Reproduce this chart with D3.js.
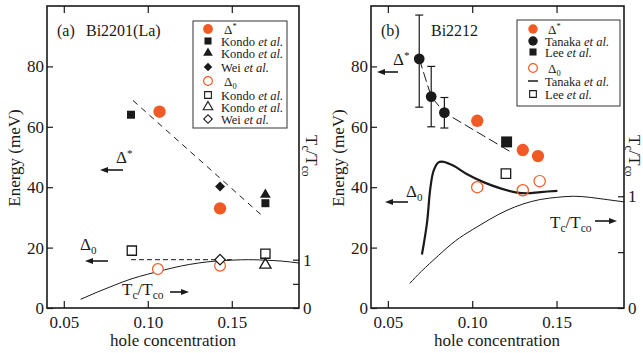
<!DOCTYPE html>
<html><head><meta charset="utf-8">
<script src="https://cdn.jsdelivr.net/npm/d3@7"></script>
<style>
body{margin:0;background:#fff}
svg{display:block}
svg text{font-family:"Liberation Serif","Times New Roman",Times,"Nimbus Roman","DejaVu Serif",serif !important;fill:#1a1a1a}
</style>
</head><body>
<svg id="c" width="643" height="353" font-family="Liberation Serif, DejaVu Serif, serif"></svg>
<script>
// ---------- axis ticks ----------
const xTickVals = [0.05, 0.10, 0.15];
const xTickLabels = ["0.05", "0.10", "0.15"];
const energyTicks = [0, 20, 40, 60, 80];
const ratioTicks = [0, 0.5, 1];
const ratioTickLabels = ["0", "", "1"];

// ---------- panel (a) Bi2201(La): [hole conc., energy meV] ----------
const aStar        = [[0.107, 65], [0.143, 33]];
const aKondoSqFill = [[0.090, 64], [0.170, 34.7]];
const aKondoTrFill = [[0.170, 37.5]];
const aWeiDiaFill  = [[0.143, 40.2]];
const aGap0        = [[0.106, 12.9], [0.143, 14]];
const aKondoSqOpen = [[0.0905, 19], [0.170, 18]];
const aKondoTrOpen = [[0.170, 14.3]];
const aWeiDiaOpen  = [[0.143, 16]];
const aStarGuide   = [[0.0912, 68.7], [0.1678, 30.7]];
const aGap0Guide   = [[0.090, 16], [0.150, 16]];
const aTcP = [0.06, 0.07, 0.08, 0.09, 0.10, 0.11, 0.12, 0.13, 0.14, 0.15, 0.16, 0.17, 0.18, 0.19];
const aTcV = [0.18, 0.33, 0.47, 0.60, 0.70, 0.79, 0.87, 0.93, 0.97, 0.99, 1.00, 0.99, 0.97, 0.93];
const aTcScaleE = 16;   // energy corresponding to Tc/Tco = 1

// ---------- panel (b) Bi2212 ----------
const bStar       = [[0.103, 62], [0.130, 52.3], [0.139, 50.3]];
const bTanaka     = [[0.0686, 82.5, 66.5, 97], [0.0757, 70, 60, 80], [0.0835, 64.7, 59.6, 69.7]]; // p, E, low, high
const bTanakaGuide= [[0.0686, 82.5], [0.0757, 70], [0.0835, 64.7], [0.124, 51.3]];
const bLeeFill    = [[0.1204, 55]];
const bGap0       = [[0.103, 40], [0.130, 39], [0.140, 42]];
const bLeeOpen    = [[0.1200, 44.5]];
const bTanakaGap0 = [[0.0702,17.7],[0.0732,28.2],[0.0751,39.3],[0.0771,45.4],[0.080,48.2],[0.083,48.4],
                     [0.089,47.1],[0.097,44.3],[0.107,41.6],[0.1168,39.6],[0.1267,38.2],[0.1327,38.0],
                     [0.1406,38.4],[0.1505,38.8]];
const bTcP = [0.063, 0.07, 0.08, 0.09, 0.10, 0.11, 0.12, 0.13, 0.14, 0.15, 0.16, 0.17, 0.18, 0.19];
const bTcV = [0.22, 0.33, 0.47, 0.60, 0.70, 0.79, 0.87, 0.93, 0.97, 0.99, 1.00, 0.99, 0.97, 0.95];
const bTcScaleE = 37;

const orange = "#f15a24";
const ink = "#1a1a1a";
const FONT = "Liberation Serif, DejaVu Serif, serif";
const svg = d3.select("#c");
const Y0 = 308, Y1 = 6;

function makePanel(x0, x1, tcE) {
  const x = d3.scaleLinear().domain([0.04, 0.19]).range([x0, x1]);
  const y = d3.scaleLinear().domain([0, 100]).range([Y0, Y1]);
  const yr = d3.scaleLinear().domain([0, 100 / tcE]).range([Y0, Y1]);
  const g = svg.append("g");
  const style = sel => { sel.attr("font-family", FONT); sel.select(".domain").remove();
    sel.selectAll("line").attr("stroke", ink).attr("stroke-width", 1.2);
    sel.selectAll("text").attr("font-family", FONT).attr("font-size", 17).attr("fill", ink); };
  g.append("g").attr("transform", `translate(0,${Y0})`)
    .call(d3.axisBottom(x).tickValues(xTickVals).tickFormat((d, i) => xTickLabels[i]).tickSize(-7).tickPadding(8)).call(style);
  g.append("g").attr("transform", `translate(0,${Y1})`)
    .call(d3.axisTop(x).tickValues(xTickVals).tickFormat("").tickSize(-7)).call(style);
  g.append("g").attr("transform", `translate(${x0},0)`)
    .call(d3.axisLeft(y).tickValues(energyTicks).tickSize(-6).tickPadding(3)).call(style);
  g.append("g").attr("transform", `translate(${x1},0)`)
    .call(d3.axisRight(yr).tickValues(ratioTicks).tickFormat((d, i) => ratioTickLabels[i]).tickSize(-6).tickPadding(4)).call(style);
  g.append("rect").attr("x", x0).attr("y", Y1).attr("width", x1 - x0).attr("height", Y0 - Y1)
    .attr("fill", "none").attr("stroke", ink).attr("stroke-width", 1.6);
  return {g, x, y, yr};
}

function marks(P, pts, type, size, fill, stroke, sw, rot) {
  P.g.selectAll(null).data(pts).enter().append("path")
    .attr("d", d3.symbol().type(type).size(size)())
    .attr("transform", d => `translate(${P.x(d[0])},${P.y(d[1])}) rotate(${rot || 0})`)
    .attr("fill", fill).attr("stroke", stroke).attr("stroke-width", sw);
}
function line(P, pts, w, dash, curve) {
  P.g.append("path").datum(pts)
    .attr("d", d3.line().x(d => P.x(d[0])).y(d => P.y(d[1])).curve(curve || d3.curveLinear))
    .attr("fill", "none").attr("stroke", ink).attr("stroke-width", w).attr("stroke-dasharray", dash || null);
}
function tcLine(P, ps, vs, w) {
  P.g.append("path").datum(ps.map((p, i) => [p, vs[i]]))
    .attr("d", d3.line().x(d => P.x(d[0])).y(d => P.yr(d[1])).curve(d3.curveNatural))
    .attr("fill", "none").attr("stroke", ink).attr("stroke-width", w);
}
function arrow(g, xa, xb, yy) { // from xa to xb (head at xb)
  const dir = Math.sign(xb - xa);
  g.append("line").attr("x1", xa).attr("x2", xb - dir * 5).attr("y1", yy).attr("y2", yy)
    .attr("stroke", ink).attr("stroke-width", 1.6);
  g.append("path").attr("d", `M${xb},${yy} L${xb - dir * 8},${yy - 3} L${xb - dir * 8},${yy + 3} Z`).attr("fill", ink);
}
function txt(g, xx, yy, fs) {
  return g.append("text").attr("x", xx).attr("y", yy).attr("font-size", fs).attr("font-family", FONT);
}
function delta(g, xx, yy, mark, sup, fs) {
  fs = fs || 17;
  const t = txt(g, xx, yy, fs);
  t.append("tspan").text("Δ");
  if (sup) t.append("tspan").attr("font-size", fs * 0.65).attr("dy", -fs * 0.38).text(mark);
  else t.append("tspan").attr("font-size", fs * 0.65).attr("dy", fs * 0.25).text(mark);
}
function tcLabel(g, xx, yy, fs) {
  const t = txt(g, xx, yy, fs);
  t.append("tspan").text("T");
  t.append("tspan").attr("font-size", fs * 0.68).attr("dy", fs * 0.25).text("c");
  t.append("tspan").attr("dy", -fs * 0.25).text("/T");
  t.append("tspan").attr("font-size", fs * 0.68).attr("dy", fs * 0.25).text("co");
  return t;
}
function legend(g, bx, by, bw, bh, sx, tx, rows) {
  g.append("rect").attr("x", bx).attr("y", by).attr("width", bw).attr("height", bh)
    .attr("fill", "#fff").attr("stroke", "#333").attr("stroke-width", 1);
  rows.forEach(r => {
    if (r.kind === "line") {
      g.append("line").attr("x1", sx - 5).attr("x2", sx + 5).attr("y1", r.y).attr("y2", r.y).attr("stroke", ink).attr("stroke-width", 1.5);
    } else {
      g.append("path").attr("d", d3.symbol().type(r.type).size(r.size)())
        .attr("transform", `translate(${sx},${r.y}) rotate(${r.rot || 0})`)
        .attr("fill", r.fill).attr("stroke", r.stroke).attr("stroke-width", r.sw);
    }
    if (r.delta) delta(g, tx + 3, r.y + 4.5, r.delta, r.sup, 13);
    else {
      const t = txt(g, tx, r.y + 4.5, 12.5);
      t.append("tspan").text(r.label + " ");
      t.append("tspan").attr("font-style", "italic").text("et al.");
    }
  });
}

// ================= Panel (a) =================
const A = makePanel(47, 299, aTcScaleE);
line(A, aStarGuide, 1, "6,5");
line(A, aGap0Guide, 1, "5,3");
tcLine(A, aTcP, aTcV, 1);
marks(A, aStar, d3.symbolCircle, 120, orange, "none", 0);
marks(A, aKondoSqFill, d3.symbolSquare, 64, ink, "none", 0);
marks(A, aKondoTrFill, d3.symbolTriangle, 50, ink, "none", 0);
marks(A, aWeiDiaFill, d3.symbolSquare, 50, ink, "none", 0, 45);
marks(A, aGap0, d3.symbolCircle, 90, "#fff", orange, 1.2);
marks(A, aKondoSqOpen, d3.symbolSquare, 85, "none", ink, 1.3);
marks(A, aKondoTrOpen, d3.symbolTriangle, 55, "none", ink, 1.3);
marks(A, aWeiDiaOpen, d3.symbolSquare, 55, "#fff", ink, 1.3, 45);

txt(A.g, 57, 36, 16).text("(a)");
txt(A.g, 86, 36, 16).text("Bi2201(La)");
delta(A.g, 116, 163, "*", true);
arrow(A.g, 123, 100, 170);
delta(A.g, 80, 250, "0", false);
arrow(A.g, 108, 85, 261);
tcLabel(A.g, 122, 295, 17);
arrow(A.g, 170, 189, 292);

legend(A.g, 193, 21, 94, 107, 208, 221, [
  {y: 29, type: d3.symbolCircle, size: 75, fill: orange, stroke: "none", sw: 0, delta: "*", sup: true},
  {y: 41, type: d3.symbolSquare, size: 50, fill: ink, stroke: "none", sw: 0, label: "Kondo"},
  {y: 53, type: d3.symbolTriangle, size: 40, fill: ink, stroke: "none", sw: 0, label: "Kondo"},
  {y: 67, type: d3.symbolSquare, size: 36, fill: ink, stroke: "none", sw: 0, rot: 45, label: "Wei"},
  {y: 81, type: d3.symbolCircle, size: 60, fill: "#fff", stroke: orange, sw: 1.2, delta: "0", sup: false},
  {y: 95, type: d3.symbolSquare, size: 45, fill: "#fff", stroke: ink, sw: 1.1, label: "Kondo"},
  {y: 107, type: d3.symbolTriangle, size: 40, fill: "#fff", stroke: ink, sw: 1.1, label: "Kondo"},
  {y: 119, type: d3.symbolSquare, size: 36, fill: "#fff", stroke: ink, sw: 1.1, rot: 45, label: "Wei"}
]);
txt(A.g, 0, 0, 17).attr("transform", "translate(20,158) rotate(-90)").attr("text-anchor", "middle").text("Energy (meV)");
tcLabel(A.g, 0, 0, 17).attr("transform", "translate(306,135) rotate(90)");
txt(A.g, 173, 346, 17).attr("text-anchor", "middle").text("hole concentration");

// ================= Panel (b) =================
const B = makePanel(371, 624, bTcScaleE);
tcLine(B, bTcP, bTcV, 1);
line(B, bTanakaGap0, 2.2, null, d3.curveCatmullRom);
line(B, bTanakaGuide, 1, "10,4");
bTanaka.forEach(d => {
  const xx = B.x(d[0]);
  B.g.append("line").attr("x1", xx).attr("x2", xx).attr("y1", B.y(d[2])).attr("y2", B.y(d[3])).attr("stroke", ink).attr("stroke-width", 1.2);
  [d[2], d[3]].forEach(v => B.g.append("line").attr("x1", xx - 4).attr("x2", xx + 4).attr("y1", B.y(v)).attr("y2", B.y(v)).attr("stroke", ink).attr("stroke-width", 1.2));
});
marks(B, bTanaka, d3.symbolCircle, 90, ink, "none", 0);
marks(B, bStar, d3.symbolCircle, 120, orange, "none", 0);
marks(B, bLeeFill, d3.symbolSquare, 120, ink, "none", 0);
marks(B, bGap0, d3.symbolCircle, 100, "none", orange, 1.2);
marks(B, bLeeOpen, d3.symbolSquare, 90, "#fff", ink, 1.3);

txt(B.g, 381, 36, 16).text("(b)");
txt(B.g, 431, 36, 16).text("Bi2212");
delta(B.g, 393, 65, "*", true);
arrow(B.g, 398, 377, 72);
delta(B.g, 406, 197, "0", false);
arrow(B.g, 408, 385, 202);
tcLabel(B.g, 550, 228, 17);
arrow(B.g, 595, 617, 221);

legend(B.g, 517, 20, 103, 86, 533, 545, [
  {y: 29, type: d3.symbolCircle, size: 70, fill: orange, stroke: "none", sw: 0, delta: "*", sup: true},
  {y: 41, type: d3.symbolCircle, size: 70, fill: ink, stroke: "none", sw: 0, label: "Tanaka"},
  {y: 52, type: d3.symbolSquare, size: 50, fill: ink, stroke: "none", sw: 0, label: "Lee"},
  {y: 68, type: d3.symbolCircle, size: 60, fill: "#fff", stroke: orange, sw: 1.2, delta: "0", sup: false},
  {y: 81, kind: "line", label: "Tanaka"},
  {y: 94, type: d3.symbolSquare, size: 45, fill: "#fff", stroke: ink, sw: 1.1, label: "Lee"}
]);
txt(B.g, 0, 0, 17).attr("transform", "translate(344,158) rotate(-90)").attr("text-anchor", "middle").text("Energy (meV)");
tcLabel(B.g, 0, 0, 17).attr("transform", "translate(629,135) rotate(90)");
txt(B.g, 497, 346, 17).attr("text-anchor", "middle").text("hole concentration");
</script>
</body></html>
